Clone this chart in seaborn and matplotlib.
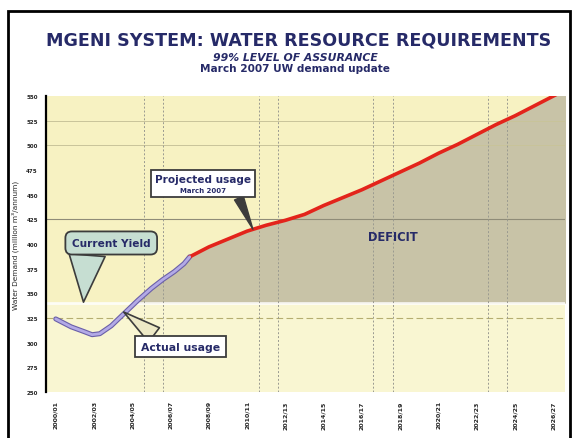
import numpy as np
import pandas as pd
import matplotlib.pyplot as plt
import seaborn as sb
from matplotlib.patches import Rectangle
from matplotlib.offsetbox import TextArea, VPacker, AnnotationBbox

sb.set_style('white')
plt.rcParams['font.family'] = ['DejaVu Sans']

# Data (million m3/annum)
actual_years = [2000.0, 2000.8, 2001.5, 2001.9, 2002.3, 2002.9, 2003.6, 2004.3, 2005.0, 2005.6, 2006.2, 2006.7, 2007.0]
actual_usage = [324, 316, 311, 308, 309, 317, 330, 343, 355, 364, 372, 380, 387]

proj_years = list(range(2007, 2028))
proj_usage = [387, 397, 405, 413, 419, 424, 430, 439, 447, 455, 464, 473, 482,
              492, 501, 511, 521, 530, 540, 550, 560]

current_yield = 340
y_ticks = list(range(250, 551, 25))
x_ticks = list(range(2000, 2027, 2))
x_labels = [f"{y}/{str(y + 1)[-2:]}" for y in x_ticks]
grid_h_light = [525, 500]
grid_h_dark = [425]
grid_h_dash = [325]
grid_v = [2004.6, 2005.6, 2010.6, 2011.6, 2016.6, 2017.6, 2022.6, 2023.6]

navy = '#262a68'
edge = '#3c3c3c'

fig = plt.figure(figsize=(5.77, 4.39), dpi=100)
ax = fig.add_axes([0.080, 0.105, 0.899, 0.674])

x_lo, x_hi = 1999.5, 2026.6
y_lo, y_hi = 250, 550

# background bands
ax.axhspan(current_yield, y_hi, color='#f7f2c2', zorder=0)
ax.axhspan(y_lo, current_yield, color='#f9f6d2', zorder=0)

# deficit area between yield and demand
dem = pd.DataFrame({'year': actual_years + proj_years[1:],
                    'usage': actual_usage + proj_usage[1:]})
ax.fill_between(dem['year'], current_yield, dem['usage'],
                where=dem['usage'] >= current_yield, interpolate=True,
                color='#c8c3a7', zorder=1, lw=0)
ax.axhline(current_yield, color='white', lw=2, alpha=0.8, zorder=1.5)

# grid lines
for g in grid_h_light:
    ax.axhline(g, color='#c9c49a', lw=0.7, zorder=1.6)
for g in grid_h_dark:
    ax.axhline(g, color='#8f8c78', lw=0.8, zorder=1.6)
for g in grid_h_dash:
    ax.axhline(g, color='#b5ae70', lw=0.8, ls=(0, (6, 3)), zorder=1.6)
for g in grid_v:
    ax.axvline(g, color='#9a9a90', lw=0.7, ls=(0, (2, 2)), zorder=1.6)

# usage lines
act = pd.DataFrame({'year': actual_years, 'usage': actual_usage})
prj = pd.DataFrame({'year': proj_years, 'usage': proj_usage})
sb.lineplot(data=act, x='year', y='usage', ax=ax, color='#6a5fa8', lw=3.6, zorder=3)
sb.lineplot(data=act, x='year', y='usage', ax=ax, color='#b3aae6', lw=2.0, zorder=3.1)
sb.lineplot(data=prj, x='year', y='usage', ax=ax, color='#e3241b', lw=2.6, zorder=3)

ax.set_xlim(x_lo, x_hi)
ax.set_ylim(y_lo, y_hi)
ax.set_yticks(y_ticks)
ax.set_yticklabels([str(v) for v in y_ticks], fontsize=4, fontweight='bold')
ax.set_xticks(x_ticks)
ax.set_xticklabels(x_labels, rotation=90, fontsize=4.5, fontweight='bold')
ax.tick_params(axis='y', length=3, width=0.8, color='black', pad=3)
ax.tick_params(axis='x', length=0, pad=6)
ax.set_xlabel('')
ax.set_ylabel('Water Demand (million m³/annum)', fontsize=5.3, labelpad=5)
for s in ['top', 'right', 'bottom']:
    ax.spines[s].set_visible(False)
ax.spines['left'].set_color('black')
ax.spines['left'].set_linewidth(1.6)

# call-outs
ax.annotate('Current Yield', xy=(2001.45, current_yield + 1), xytext=(2002.9, 401),
            fontsize=7.6, fontweight='bold', color=navy, ha='center', va='center',
            bbox=dict(boxstyle='round,pad=0.62', fc='#c6ded2', ec=edge, lw=1.3),
            arrowprops=dict(arrowstyle='wedge,tail_width=2.6', fc='#c6ded2', ec=edge, lw=1.2,
                            relpos=(0.2, 0.0), mutation_scale=10, shrinkA=0, shrinkB=0),
            zorder=5)
ax.annotate('Actual usage', xy=(2003.55, 331), xytext=(2006.5, 296),
            fontsize=7.8, fontweight='bold', color=navy, ha='center', va='center',
            bbox=dict(boxstyle='square,pad=0.55', fc='white', ec=edge, lw=1.3),
            arrowprops=dict(arrowstyle='wedge,tail_width=1.3', fc='#ede9c6', ec=edge, lw=1.2,
                            relpos=(0.28, 1.0), mutation_scale=10, shrinkA=0, shrinkB=0),
            zorder=5)

proj_box = VPacker(children=[
    TextArea('Projected usage', textprops=dict(fontsize=7.6, fontweight='bold', color=navy)),
    TextArea('March 2007', textprops=dict(fontsize=5, fontweight='bold', color=navy))],
    align='center', pad=0, sep=2)
ab = AnnotationBbox(proj_box, xy=(2010.3, 415), xybox=(2007.7, 461), xycoords='data',
                    boxcoords='data', pad=0.7,
                    bboxprops=dict(boxstyle='square', fc='white', ec=edge, lw=1.3),
                    arrowprops=dict(arrowstyle='wedge,tail_width=0.5', fc=edge, ec=edge, lw=1,
                                    relpos=(0.85, 0.0), mutation_scale=10,
                                    shrinkA=0, shrinkB=0))
ab.set_zorder(5)
ax.add_artist(ab)

ax.text(2017.6, 408, 'DEFICIT', fontsize=8.3, fontweight='bold', color=navy,
        ha='center', va='center', zorder=4)

# titles
fig.text(0.518, 0.908, 'MGENI SYSTEM: WATER RESOURCE REQUIREMENTS', fontsize=12.6,
         fontweight='bold', color=navy, ha='center', va='center')
fig.text(0.512, 0.869, '99% LEVEL OF ASSURANCE', fontsize=7.8, fontweight='bold',
         fontstyle='italic', color=navy, ha='center', va='center')
fig.text(0.512, 0.843, 'March 2007 UW demand update', fontsize=7.6, fontweight='bold',
         color=navy, ha='center', va='center')

# outer frame
fig.patches.append(Rectangle((8 / 577, -0.05), 562 / 577, 1 - 12 / 439 + 0.05,
                             transform=fig.transFigure, fill=False, ec='black', lw=2))

fig.savefig('out.png', dpi=100)
